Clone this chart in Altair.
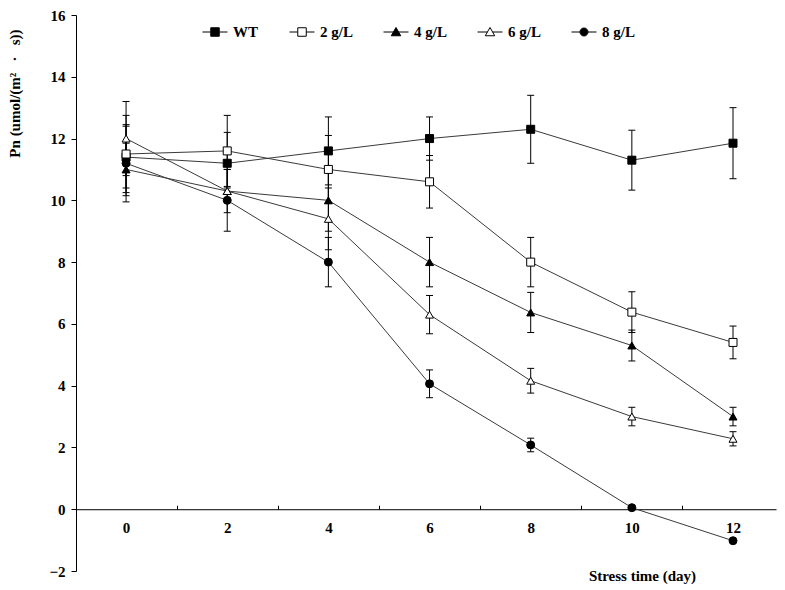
import altair as alt
import pandas as pd

# ---- data ----
days = [0, 2, 4, 6, 8, 10, 12]
series_names = ["WT", "2 g/L", "4 g/L", "6 g/L", "8 g/L"]

wt_mean = [11.4, 11.2, 11.6, 12.0, 12.3, 11.3, 11.85]
wt_sd = [1.0, 1.0, 1.1, 0.7, 1.1, 0.97, 1.15]
g2_mean = [11.5, 11.6, 11.0, 10.6, 8.0, 6.38, 5.4]
g2_sd = [1.25, 1.15, 1.1, 0.85, 0.8, 0.66, 0.53]
g4_mean = [11.0, 10.3, 10.0, 8.0, 6.37, 5.3, 3.0]
g4_sd = [0.85, 0.7, 1.0, 0.8, 0.65, 0.5, 0.3]
g6_mean = [12.0, 10.3, 9.4, 6.3, 4.16, 3.0, 2.28]
g6_sd = [1.2, 0.1, 1.0, 0.62, 0.4, 0.3, 0.23]
g8_mean = [11.2, 10.0, 8.0, 4.06, 2.08, 0.05, -1.02]
g8_sd = [1.25, 1.0, 0.8, 0.45, 0.22, 0.0, 0.0]

y_ticks = [-2, 0, 2, 4, 6, 8, 10, 12, 14, 16]
x_labels = days
x_boundaries = [1, 3, 5, 7, 9, 11]

point_shapes = ["square", "square", "triangle-up", "triangle-up", "circle"]
point_fills = ["black", "white", "black", "white", "black"]
point_strokes = ["black", "black", "black", "black", "black"]
legend_shapes = [
    "M-1,0H-0.34M0.34,0H1M-0.34,-0.34H0.34V0.34H-0.34Z",
    "M-1,0H-0.34M0.34,0H1M-0.34,-0.34H0.34V0.34H-0.34Z",
    "M-1,0H-0.2M0.2,0H1M0,-0.36L0.38,0.3H-0.38Z",
    "M-1,0H-0.2M0.2,0H1M0,-0.36L0.38,0.3H-0.38Z",
    "M-1,0H-0.32M0.32,0H1M0.32,0A0.32,0.32 0 1,1 -0.32,0A0.32,0.32 0 1,1 0.32,0Z",
]

rows = []
for name, means, sds in zip(
    series_names,
    [wt_mean, g2_mean, g4_mean, g6_mean, g8_mean],
    [wt_sd, g2_sd, g4_sd, g6_sd, g8_sd],
):
    for d, m, s in zip(days, means, sds):
        rows.append({"Series": name, "Day": d, "Pn": m, "sd": s, "lo": m - s, "hi": m + s})
df = pd.DataFrame(rows)

FONT = "Liberation Serif"
W, H = 700, 556
Y0 = H * 16 / 18  # pixel distance from plot top to the value 0

x_scale = alt.Scale(domain=[-0.99, 12.85], nice=False, zero=False)
y_scale = alt.Scale(domain=[-2, 16], nice=False, zero=False)

base = alt.Chart(df)

lines = base.mark_line(color="#3a3a3a", strokeWidth=1).encode(
    x=alt.X(
        "Day:Q",
        scale=x_scale,
        axis=alt.Axis(
            values=x_labels,
            ticks=False,
            tickSize=0,
            labelPadding=11,
            labelFont=FONT,
            labelFontSize=15,
            labelFontWeight="bold",
            labelColor="black",
            domainColor="black",
            domainWidth=1,
            grid=False,
            offset=-(H - Y0),
            title="Stress time (day)",
            titleFont=FONT,
            titleFontSize=15,
            titleFontWeight="bold",
            titleColor="black",
            titleX=566,
            titleY=66,
            titleAlign="center",
            titleBaseline="middle",
        ),
    ),
    y=alt.Y(
        "Pn:Q",
        scale=y_scale,
        axis=alt.Axis(
            values=y_ticks,
            tickSize=5,
            tickColor="black",
            domainColor="black",
            labelPadding=6,
            labelFont=FONT,
            labelFontSize=15,
            labelFontWeight="bold",
            labelColor="black",
            grid=False,
            title="Pn (umol/(m² \u2002·\u2002 s))",
            titleFont=FONT,
            titleFontSize=15,
            titleFontWeight="bold",
            titleColor="black",
            titleAngle=270,
            titleX=-62,
            titleY=78,
            titleAlign="center",
            titleBaseline="middle",
        ),
    ),
    detail="Series:N",
    order="Day:Q",
)

eb = base.transform_filter("datum.sd > 0")

bars = eb.mark_rule(color="black", strokeWidth=1).encode(
    x=alt.X(
        "Day:Q",
        scale=x_scale,
        axis=alt.Axis(
            orient="top",
            values=x_boundaries,
            labels=False,
            domain=False,
            ticks=True,
            tickSize=4,
            tickColor="black",
            grid=False,
            offset=-Y0,
            title=None,
        ),
    ),
    y=alt.Y("lo:Q", scale=y_scale, axis=None),
    y2="hi:Q",
)

caps_lo = eb.mark_rule(color="black", strokeWidth=1, xOffset=-3.5, x2Offset=3.5).encode(
    x=alt.X("Day:Q", scale=x_scale, axis=None),
    x2="Day:Q",
    y=alt.Y("lo:Q", scale=y_scale, axis=None),
)
caps_hi = eb.mark_rule(color="black", strokeWidth=1, xOffset=-3.5, x2Offset=3.5).encode(
    x=alt.X("Day:Q", scale=x_scale, axis=None),
    x2="Day:Q",
    y=alt.Y("hi:Q", scale=y_scale, axis=None),
)

points = base.mark_point(stroke="black", strokeWidth=1, opacity=1, size=64).encode(
    x=alt.X("Day:Q", scale=x_scale, axis=None),
    y=alt.Y("Pn:Q", scale=y_scale, axis=None),
    shape=alt.Shape("Series:N", scale=alt.Scale(domain=series_names, range=point_shapes), legend=None),
    fill=alt.Fill("Series:N", scale=alt.Scale(domain=series_names, range=point_fills), legend=None),
)

legend_props = dict(
    orient="none",
    legendX=126,
    legendY=4,
    direction="horizontal",
    title=None,
    symbolSize=625,
    symbolStrokeWidth=1,
    symbolOpacity=1,
    labelFont=FONT,
    labelFontSize=15,
    labelFontWeight="bold",
    labelColor="black",
    labelOffset=5,
    columnPadding=28,
    padding=0,
    labelLimit=200,
)

# legend-only layer: draws no marks (filtered empty), its scales have explicit domains
legend_layer = base.transform_filter("datum.Day < -100").mark_point(
    strokeWidth=1, opacity=1
).encode(
    x=alt.X("Day:Q", scale=x_scale, axis=None),
    y=alt.Y("Pn:Q", scale=y_scale, axis=None),
    shape=alt.Shape(
        "Series:N",
        scale=alt.Scale(domain=series_names, range=legend_shapes),
        legend=alt.Legend(**legend_props),
    ),
    fill=alt.Fill(
        "Series:N",
        scale=alt.Scale(domain=series_names, range=point_fills),
        legend=alt.Legend(**legend_props),
    ),
    stroke=alt.Stroke(
        "Series:N",
        scale=alt.Scale(domain=series_names, range=point_strokes),
        legend=alt.Legend(**legend_props),
    ),
)

chart = (
    alt.layer(lines, bars, caps_lo, caps_hi, legend_layer, points)
    .resolve_scale(shape="independent", fill="independent", stroke="independent")
    .resolve_axis(x="independent", y="independent")
    .properties(
        width=W,
        height=H,
        autosize=alt.AutoSizeParams(type="none"),
        padding={"left": 68, "top": 7, "right": 1, "bottom": 17},
        background="white",
    )
    .configure_view(stroke=None)
)

chart.save("out.html", embed_options={"renderer": "svg", "actions": False})
